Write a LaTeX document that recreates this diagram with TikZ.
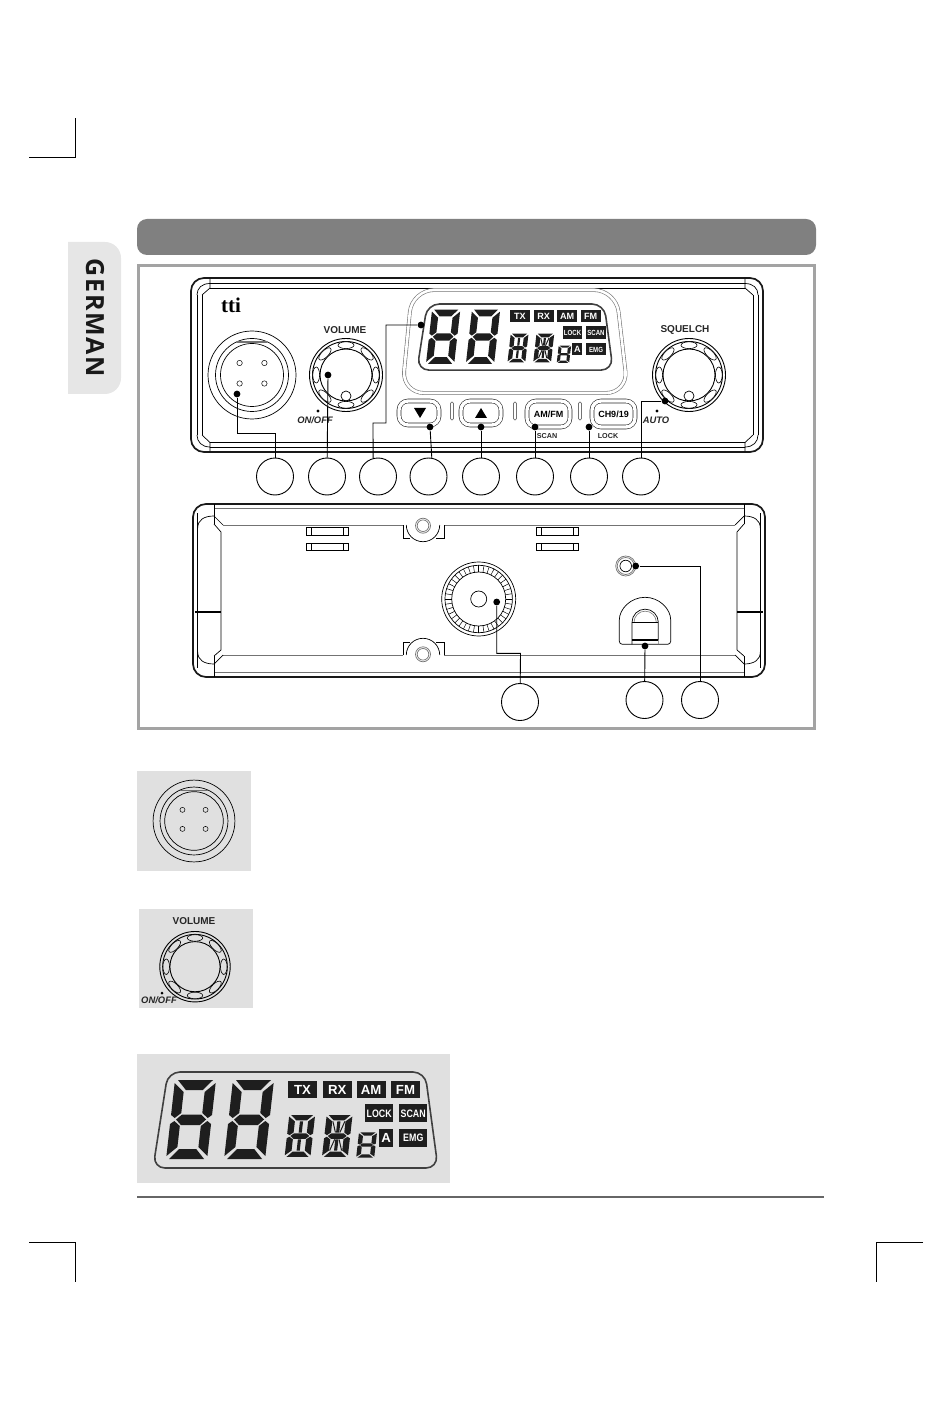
\documentclass[tikz,border=0pt]{standalone}
\usepackage{fontspec}
\usetikzlibrary{positioning}
\newfontfamily\panelfont{Liberation Sans}
\newfontfamily\logofont{Liberation Serif}
\newfontfamily\tabfont[LetterSpace=7]{Open Sans}
\definecolor{framegrey}{HTML}{A3A3A3}
\definecolor{bargrey}{HTML}{808080}
\definecolor{tabgrey}{HTML}{E6E6E6}
\definecolor{boxgrey}{HTML}{E0E0E0}
\definecolor{lcdink}{HTML}{1E1E1E}
\tikzset{
	thin line/.style={draw=black,line width=.35pt},
	grey line/.style={draw=black!55,line width=.45pt},
	shell/.style={draw=black!90,line width=.85pt,rounded corners=6.5pt},
	lead/.style={draw=black,line width=.45pt},
	leaddot/.style={circle,fill=black,inner sep=0pt,minimum size=3.4pt},
	callout/.style={circle,draw=black,line width=.45pt,inner sep=0pt,minimum size=18.5pt},
	keycap/.style={rectangle,draw=black!85,line width=.3pt,double=white,double distance=1.7pt,rounded corners=4.5pt,inner sep=0pt,font=\panelfont\bfseries\fontsize{4.5}{5}\selectfont},
	keylabel/.style={inner sep=0pt,font=\panelfont\bfseries\fontsize{3.6}{4}\selectfont,text=black!85},
	namelabel/.style={inner sep=0pt,font=\panelfont\bfseries\fontsize{5}{6}\selectfont,text=black!85},
	marklabel/.style={inner sep=0pt,font=\panelfont\bfseries\itshape\fontsize{4.7}{5}\selectfont,text=black!85},
	lcdtag/.style={rectangle,fill=lcdink,text=white,inner sep=0pt,transform shape,font=\panelfont\bfseries\fontsize{6.6}{7}\selectfont},
	lcdsmall/.style={lcdtag,font=\panelfont\bfseries\fontsize{5.4}{6}\selectfont},
}
\newcommand\lcddigit{
	\fill[lcdink] (3,0) -- (38,0) -- (29,10) -- (12,10) -- cycle
		(0,3) -- (10,12) -- (10,33) -- (4,38) -- (0,35) -- cycle
		(41,3) -- (31,12) -- (31,33) -- (37,38) -- (41,35) -- cycle
		(5.5,39.5) -- (11,34.5) -- (30,34.5) -- (35.5,39.5) -- (30,45) -- (11,45) -- cycle
		(0,44) -- (4,41) -- (10,46) -- (10,67) -- (0,76) -- cycle
		(41,44) -- (37,41) -- (31,46) -- (31,67) -- (41,76) -- cycle
		(12,69) -- (29,69) -- (38,79) -- (3,79) -- cycle;
}
\newcommand\lcdface[1]{
	\draw[draw=black!75,line width=.8pt,rounded corners=6pt] (168,1072) -- (425,1072) -- (438,1168) -- (153,1168) -- cycle;
	\begin{scope}[shift={(175,1080)},xslant=.113]\lcddigit\end{scope}
	\begin{scope}[shift={(233,1080)},xslant=.113]\lcddigit\end{scope}
	\begin{scope}[shift={(289.3,1115)},xslant=.113,xscale=.63,yscale=.53]
		\lcddigit
		\fill[lcdink] (18,12) rectangle (23,33) (18,46) rectangle (23,67);
	\end{scope}
	\begin{scope}[shift={(326.7,1115)},xslant=.113,xscale=.63,yscale=.53]
		\lcddigit
		\fill[lcdink] (18,12) rectangle (23,33) (18,46) rectangle (23,67);
		\draw[lcdink,line width=.5pt] (11,12) -- (17,33) (30,12) -- (24,33) (11,67) -- (17,46) (30,67) -- (24,46);
	\end{scope}
	\begin{scope}[shift={(359,1132.3)},xslant=.113,xscale=.44,yscale=.32]\lcddigit\end{scope}
	\node[lcdtag,minimum width=14.2pt,minimum height=8.8pt] (#1tx) at (302.5,1089.5) {TX};
	\node[lcdtag,minimum width=14.5pt,minimum height=8.8pt] (#1rx) at (337.2,1089.5) {RX};
	\node[lcdtag,minimum width=14.5pt,minimum height=8.8pt] (#1am) at (371.2,1089.5) {AM};
	\node[lcdtag,minimum width=14.5pt,minimum height=8.8pt] (#1fm) at (405.5,1089.5) {FM};
	\node[lcdsmall,minimum width=14.2pt,minimum height=9pt] (#1lock) at (379.2,1113.3) {\scalebox{.82}[1]{LOCK}};
	\node[lcdsmall,minimum width=14.2pt,minimum height=9pt] (#1scan) at (413.2,1113.3) {\scalebox{.82}[1]{SCAN}};
	\node[lcdtag,minimum width=7.2pt,minimum height=8.7pt] (#1a) at (386.2,1138) {A};
	\node[lcdsmall,minimum width=14pt,minimum height=8.7pt] (#1emg) at (413.3,1138) {\scalebox{.82}[1]{EMG}};
}
\newcommand\micface{
	\draw[thin line] (0,0) circle (44) (0,0) circle (36.5) (0,0) circle (31.5);
	\draw[grey line,line width=.8pt] (-15,-32.7) -- (15,-32.7);
	\foreach \pinx/\piny in {-12.4/-12,12.4/-12,-12.4/8.5,12.4/8.5}
		\draw[thin line,line width=.25pt] (\pinx,\piny) circle (2.7);
}
\newcommand\knobface[1]{
	\draw[thin line,line width=.45pt] (0,0) circle (36.5) (0,0) circle (33.5) (0,0) circle (26);
	\foreach \knobang in {0,45,...,315}
		\draw[thin line,line width=.3pt,fill=#1,rotate=\knobang] (29.8,0) ellipse (3.4 and 8);
}
\begin{document}
\begin{tikzpicture}[x=.5pt,y=-.5pt]
	\useasboundingbox (0,0) rectangle (950,1422);
	\draw[line width=.5pt] (29,158) -- (75.5,158) -- (75.5,118);
	\draw[line width=.5pt] (29,1242) -- (75.5,1242) -- (75.5,1282);
	\draw[line width=.5pt] (923,1242) -- (876,1242) -- (876,1282);
	\fill[tabgrey] (68,242) [rounded corners=8pt] -- (121,242) -- (121,394) [sharp corners] -- (68,394) -- cycle;
	\node[rotate=-90,inner sep=0pt,font=\tabfont\bfseries\fontsize{12.5}{14}\selectfont,text=black!90] (tabname) at (95,318) {GERMAN};
	\fill[bargrey,rounded corners=5pt] (137,219) rectangle (816,255);
	\draw[framegrey,line width=1.5pt] (138,266) rectangle (814.5,728);

	\draw[shell] (191,278) rectangle (763,452);
	\draw[thin line] (210,283.5) -- (745,283.5) (210,288) -- (745,288);
	\draw[thin line] (210,442.5) -- (745,442.5) (210,447) -- (745,447);
	\draw[thin line] (197,295) -- (197,435) (202,295) -- (202,435);
	\draw[thin line] (753,295) -- (753,435) (758,295) -- (758,435);
	\draw[thin line] (210,279) -- (210,288) -- (202,295) (197,295) .. controls (197,288) and (202,283.5) .. (210,283.5);
	\draw[thin line] (210,451) -- (210,442.5) -- (202,435) (197,435) .. controls (197,442) and (202,447) .. (210,447);
	\draw[thin line] (745,279) -- (745,288) -- (753,295) (758,295) .. controls (758,288) and (753,283.5) .. (745,283.5);
	\draw[thin line] (745,451) -- (745,442.5) -- (753,435) (758,435) .. controls (758,442) and (753,447) .. (745,447);
	\node[inner sep=0pt,font=\logofont\bfseries\fontsize{10.5}{11}\selectfont] (logo) at (231,305) {tti};

	\begin{scope}[shift={(252,375)}]\micface\end{scope}
	\begin{scope}[shift={(346,375)}]
		\knobface{white}
		\draw[thin line] (0,21) circle (5);
	\end{scope}
	\begin{scope}[shift={(689,375)}]
		\knobface{white}
		\draw[thin line] (0,21) circle (5);
	\end{scope}
	\node[namelabel] (volname) at (345,330) {VOLUME};
	\node[namelabel] (sqname) at (685,330) {SQUELCH};
	\fill (318,411) circle (1.7) (657,411) circle (1.7);
	\node[marklabel] (onoff) at (315,420.5) {ON/OFF};
	\node[marklabel] (autoname) at (656,420.5) {AUTO};

	\draw[draw=black!55,line width=.3pt,double=white,double distance=1.3pt,rounded corners=11pt] (412,290) -- (616,290) -- (628,393) -- (402,393) -- cycle;
	\begin{scope}[shift={(311.7,-433.5)},scale=.688]\lcdface{up}\end{scope}

	\node[keycap,minimum width=20pt,minimum height=12pt] (dnkey) at (419,413) {};
	\node[keycap,minimum width=20pt,minimum height=12pt] (upkey) at (481,413) {};
	\node[keycap,minimum width=21.5pt,minimum height=13pt] (amkey) at (548.5,414) {AM/FM};
	\node[keycap,minimum width=21.5pt,minimum height=13pt] (chkey) at (613.5,414) {CH9/19};
	\fill[black] (414,408) -- (426,408) -- (420,418) -- cycle;
	\fill[black] (475,418) -- (487,418) -- (481,408) -- cycle;
	\foreach \slotx in {452,515,580}
		\draw[grey line,line width=.35pt,rounded corners=.7pt] (\slotx-1.5,402) rectangle (\slotx+1.5,420);
	\node[keylabel] (scanname) at (547,436) {SCAN};
	\node[keylabel] (lockname) at (608,436) {LOCK};

	\node[leaddot] (micdot) at (237,394) {};
	\node[leaddot] (voldot) at (328,375) {};
	\node[leaddot] (lcddot) at (421,325) {};
	\node[leaddot] (dndot) at (430,427) {};
	\node[leaddot] (updot) at (481,427) {};
	\node[leaddot] (amdot) at (535,427) {};
	\node[leaddot] (chdot) at (589,427) {};
	\node[leaddot] (sqdot) at (665,401) {};
	\node[callout] (miccall) at (275,476.5) {};
	\node[callout] (volcall) at (327,476.5) {};
	\node[callout] (lcdcall) at (378,476.5) {};
	\node[callout] (dncall) at (428.5,476.5) {};
	\node[callout] (upcall) at (481,476.5) {};
	\node[callout] (amcall) at (535,476.5) {};
	\node[callout] (chcall) at (589,476.5) {};
	\node[callout] (sqcall) at (641,476.5) {};
	\draw[lead] (micdot) |- (275,433) -- (miccall);
	\draw[lead] (voldot) -- (volcall);
	\draw[lead] (lcddot) -- (386,325) -- (386,423) -- (373,423) -- (lcdcall.105);
	\draw[lead] (dndot) -- (dncall.80);
	\draw[lead] (updot) -- (upcall);
	\draw[lead] (amdot) -- (amcall);
	\draw[lead] (chdot) -- (chcall);
	\draw[lead] (sqdot) -| (sqcall);

	\draw[shell] (193,504) rectangle (765,677);
	\draw[grey line] (214,508) -- (744,508) (214,672) -- (744,672);
	\draw[grey line] (223,525) -- (403.3,525) (444.3,525) -- (735,525);
	\draw[grey line] (223,655) -- (403.3,655) (444.3,655) -- (735,655);
	\draw[thin line] (197.7,513) -- (197.7,668) (760.3,513) -- (760.3,668);
	\draw[thin line] (214,504) -- (214,524) (214,656) -- (214,677) (744,504) -- (744,524) (744,656) -- (744,677);
	\draw[thin line] (197.7,528) .. controls (197.7,520) and (204,516) .. (214,516);
	\draw[thin line] (197.7,652) .. controls (197.7,660) and (204,664) .. (214,664);
	\draw[thin line] (760.3,528) .. controls (760.3,520) and (754,516) .. (744,516);
	\draw[thin line] (760.3,652) .. controls (760.3,660) and (754,664) .. (744,664);
	\draw[thin line] (223,525) -- (214,516) (214,524) -- (221,532) -- (221,650) -- (214,656) (223,655) -- (214,664);
	\draw[thin line] (735,525) -- (744,516) (744,524) -- (737,532) -- (737,650) -- (744,656) (735,655) -- (744,664);
	\draw[line width=.8pt] (195,612) -- (221,612) (737,612) -- (763,612);
	\foreach \ventx in {306.7,536.7} {
		\draw[thin line] (\ventx,527) rectangle ++(42,8.7) (\ventx+5,527) -- ++(0,8.7) (\ventx+37,527) -- ++(0,8.7);
		\draw[thin line] (\ventx,543) rectangle ++(42,7.7) (\ventx+5,543) -- ++(0,7.7) (\ventx+37,543) -- ++(0,7.7);
	}
	\draw[thin line] (403.3,525) -- (403.3,538.3) -- (410,538.3) (444.3,525) -- (444.3,538.3) -- (436,538.3);
	\draw[thin line] (406.3,525) arc (180:0:16.7);
	\draw[thin line] (403.3,655) -- (403.3,642.3) -- (410,642.3) (444.3,655) -- (444.3,642.3) -- (436,642.3);
	\draw[thin line] (406.3,655) arc (180:360:16.7);
	\draw[grey line,line width=.35pt] (423,525.7) circle (7.5) (423,525.7) circle (5.8);
	\draw[grey line,line width=.35pt] (423,654.3) circle (7.5) (423,654.3) circle (5.8);

	\begin{scope}[shift={(478.7,599)}]
		\draw[thin line] (0,0) circle (37) (0,0) circle (33.7) (0,0) circle (27) (0,0) circle (8);
		\foreach \tickang in {0,9,...,351}
			\draw[thin line,line width=.25pt] (\tickang:27) -- (\tickang:33.7);
	\end{scope}
	\draw[grey line,line width=.35pt] (625.7,566) circle (10) (625.7,566) circle (8.5);
	\draw[thin line] (625.7,566) circle (5.8);
	\draw[thin line,rounded corners=1.5pt] (619.3,644.3) -- (619.3,623) arc (180:360:25.7) -- (670.7,644.3) -- cycle;
	\draw[thin line] (632,644.3) -- (632,622.3) arc (180:360:13.15) -- (658.3,640);
	\draw[grey line,line width=.3pt] (634,622.3) arc (180:360:11.15) (658.3,622.3) -- (658.3,644.3);
	\draw[line width=.6pt] (632,622.3) -- (658.3,622.3) (632,640) -- (658.3,640);

	\node[leaddot] (dialdot) at (496.7,602) {};
	\node[leaddot] (plugdot) at (645,646) {};
	\node[leaddot] (jackdot) at (635.7,566) {};
	\node[callout] (dialcall) at (520,702) {};
	\node[callout] (plugcall) at (644.5,700) {};
	\node[callout] (jackcall) at (700,700) {};
	\draw[lead] (dialdot) |- (520.5,653.3) -- (dialcall);
	\draw[lead] (plugdot) -- (plugcall);
	\draw[lead] (jackdot) -| (jackcall);

	\fill[boxgrey] (137,771) rectangle (251,870.5);
	\begin{scope}[shift={(194,821)},scale=.93]\micface\end{scope}

	\fill[boxgrey] (138.5,909) rectangle (253,1007.5);
	\begin{scope}[shift={(195,966.7)},scale=.965]\knobface{boxgrey}\end{scope}
	\node[namelabel] (volthumb) at (194,920.7) {VOLUME};
	\fill (162,993) circle (1.5);
	\node[marklabel] (onoffthumb) at (159,1000.5) {ON/OFF};

	\fill[boxgrey] (137,1054) rectangle (450,1183);
	\lcdface{low}

	\draw[draw=black!60,line width=.6pt] (137,1197) -- (824,1197);
\end{tikzpicture}
\end{document}
